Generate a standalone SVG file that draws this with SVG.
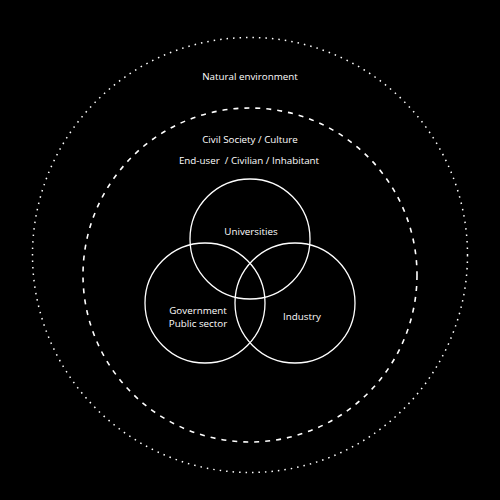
<svg xmlns="http://www.w3.org/2000/svg" width="500" height="500" viewBox="0 0 500 500">
<style>
text{font-family:"Open Sans","Noto Sans",sans-serif;font-size:9.8px;fill:#fff;text-anchor:middle}
.c{fill:none;stroke:#fff;stroke-width:1.3}
</style>
<rect width="500" height="500" fill="#000"/>
<g id="natural-environment">
<circle cx="250" cy="255" r="217.5" fill="none" stroke="#fff" stroke-width="1.5" stroke-dasharray="1.5 5"/>
<text x="250" y="80">Natural environment</text>
</g>
<g id="civil-society">
<circle cx="250" cy="275" r="167" fill="none" stroke="#fff" stroke-width="1.6" stroke-dasharray="5 6"/>
<text x="250" y="143">Civil Society / Culture</text>
<text x="249" y="164">End-user&#160; / Civilian / Inhabitant</text>
</g>
<g id="universities">
<circle class="c" cx="250" cy="239" r="60"/>
<text x="251" y="235">Universities</text>
</g>
<g id="government">
<circle class="c" cx="205" cy="303" r="60"/>
<text x="198" y="314">Government</text>
<text x="198" y="327">Public sector</text>
</g>
<g id="industry">
<circle class="c" cx="295" cy="303" r="60"/>
<text x="302" y="320">Industry</text>
</g>
<g id="connectors"></g>
</svg>
